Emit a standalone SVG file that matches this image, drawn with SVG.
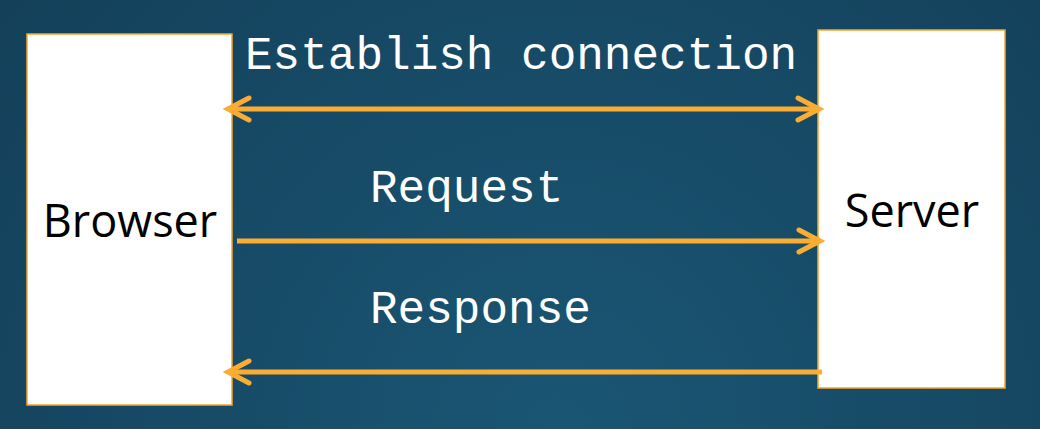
<svg xmlns="http://www.w3.org/2000/svg" width="1040" height="429" viewBox="0 0 1040 429">
<defs>
<radialGradient id="bg" cx="560" cy="429" r="900" gradientUnits="userSpaceOnUse">
<stop offset="0" stop-color="#1a5674"/>
<stop offset="1" stop-color="#123a52"/>
</radialGradient>
<marker id="ah" viewBox="0 0 30 30" refX="25" refY="15" markerWidth="30" markerHeight="30" markerUnits="userSpaceOnUse" orient="auto-start-reverse">
<path d="M4,4 L25,15 L4,26" fill="none" stroke="#fbad33" stroke-width="5" stroke-linecap="round" stroke-linejoin="miter"/>
</marker>
<style>
.box{fill:#ffffff;stroke:#f7a52a;stroke-width:1.5}
.nl{font-family:"Open Sans","Noto Sans","DejaVu Sans",sans-serif;fill:#000;font-size:45px}
.el{font-family:"Liberation Mono","Courier New",monospace;fill:#ffffff;font-size:46px}
.cn{stroke:#fbad33;stroke-width:5;fill:none}
</style>
</defs>
<rect width="1040" height="429" fill="url(#bg)"/>
<g id="browser">
<rect class="box" x="27" y="34" width="205" height="371"/>
<text class="nl" x="130" y="237" text-anchor="middle">Browser</text>
</g>
<g id="server">
<rect class="box" x="818" y="30" width="187" height="358"/>
<text class="nl" x="912" y="227" text-anchor="middle">Server</text>
</g>
<g id="connectors">
<line class="cn" x1="228" y1="109" x2="819" y2="109" marker-start="url(#ah)" marker-end="url(#ah)"/>
<line class="cn" x1="237" y1="241" x2="820" y2="241" marker-end="url(#ah)"/>
<line class="cn" x1="822" y1="372" x2="228" y2="372" marker-end="url(#ah)"/>
</g>
<g id="labels">
<text class="el" x="245" y="69">Establish connection</text>
<text class="el" x="370" y="202">Request</text>
<text class="el" x="370" y="323">Response</text>
</g>
</svg>
